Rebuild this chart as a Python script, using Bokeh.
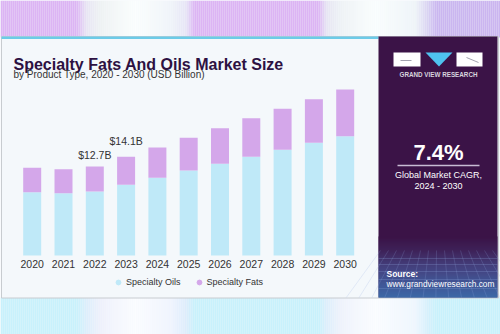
import numpy as np
from bokeh.plotting import figure
from bokeh.models import ColumnDataSource, Range1d, Legend, LegendItem
from bokeh.core.properties import value
from bokeh.embed import file_html
from bokeh.resources import INLINE

# ---------------- data ----------------
years = ["2020", "2021", "2022", "2023", "2024", "2025", "2026", "2027", "2028", "2029", "2030"]
specialty_oils = [9.04, 8.90, 9.14, 10.10, 11.10, 12.14, 13.10, 14.10, 15.10, 16.10, 17.04]
specialty_fats = [3.49, 3.43, 3.56, 4.00, 4.33, 4.67, 5.09, 5.50, 5.86, 6.23, 6.67]
label_years = ["2022", "2023"]
label_texts = ["$12.7B", "$14.1B"]
series_names = ["Specialty Oils", "Specialty Fats"]
cagr_text = "7.4%"

W, H = 500, 334
XR = (-1.0128, 14.962)
YR = (-11.286, 36.43)

def X(px):
    return XR[0] + px / W * (XR[1] - XR[0])

def Y(py):
    return YR[1] - py / H * (YR[1] - YR[0])

p = figure(width=W, height=H, output_backend="svg", toolbar_location=None,
           x_range=Range1d(*XR), y_range=Range1d(*YR), min_border=0,
           outline_line_color=None, background_fill_color="#f4f8fb",
           border_fill_color="#f4f8fb")
p.axis.visible = False
p.grid.visible = False

def hexrgb(h):
    h = h.lstrip("#")
    return np.array([int(h[i:i + 2], 16) for i in (0, 2, 4)], float)

def gradient(stops, xs):
    pos = np.array([s[0] for s in stops], float)
    cols = np.array([hexrgb(s[1]) for s in stops])
    out = []
    for x in xs:
        c = [np.interp(x, pos, cols[:, k]) for k in range(3)]
        out.append("#%02x%02x%02x" % tuple(int(round(v)) for v in c))
    return out

# top band
step = 2
xs = np.arange(0, W, step)
lil = "#dcb4f4"
top_stops = [(0, lil), (76, lil), (86, "#e8e4f4"), (100, "#eef2f3"), (135, "#fbfefe"),
             (170, "#f0f4f9"), (186, "#e6e4f6"), (194, lil), (318, lil), (326, "#e6e4f4"),
             (340, "#eef2f5"), (375, "#fafefe"), (415, "#eef4f8"), (428, "#d8d0f2"),
             (436, "#cab6f0"), (500, "#cbb5f0")]
p.quad(left=[X(x) for x in xs], right=[X(x + step) for x in xs], top=Y(0), bottom=Y(37),
       color=gradient(top_stops, xs + step / 2), line_color=None)
cy = "#c8f1fc"
bot_stops = [(0, cy), (76, cy), (86, "#dceefc"), (100, "#eef0fc"), (135, "#fbfdff"),
             (170, "#f0f4fe"), (186, "#dcecfc"), (194, cy), (318, cy), (326, "#dceefc"),
             (340, "#eef2fc"), (375, "#fbfdff"), (415, "#eef6fe"), (428, "#d4f0fc"),
             (436, cy), (500, cy)]
p.quad(left=[X(x) for x in xs], right=[X(x + step) for x in xs], top=Y(297), bottom=Y(H),
       color=gradient(bot_stops, xs + step / 2), line_color=None)

# card
p.quad(left=X(1), right=X(498), top=Y(36), bottom=Y(297.5), color="#f4f8fb",
       line_color="#c8ccd0", line_width=1)
p.quad(left=X(1), right=X(378), top=Y(36), bottom=Y(38.5), color="#6ccbe8", line_color=None)

# right panel
p.quad(left=X(378), right=X(497), top=Y(36), bottom=Y(297), color="#3b1347", line_color=None)
ys = np.arange(236, 297, 1.0)
pstops = [(236, "#3b1347"), (250, "#40275e"), (265, "#474d8c"), (280, "#4568aa"), (297, "#3d84c6")]
p.quad(left=X(378), right=X(497), top=[Y(y) for y in ys], bottom=[Y(y + 1) for y in ys],
       color=gradient(pstops, ys + 0.5), line_color=None)
# faint perspective grid
gy = [258, 264, 271, 279, 288]
p.multi_line(xs=[[X(378), X(497)] for _ in gy], ys=[[Y(y), Y(y)] for y in gy],
             line_color="#8fa8e0", line_alpha=0.25, line_width=1)
gx = np.arange(380, 500, 8)
p.multi_line(xs=[[X(x), X(437 + (x - 437) * 1.6)] for x in gx],
             ys=[[Y(250), Y(297)] for _ in gx], line_color="#8fa8e0", line_alpha=0.2, line_width=1)

# logo
p.quad(left=[X(393), X(456)], right=[X(420), X(482)], top=Y(52), bottom=Y(66),
       color="#ffffff", line_color=None)
p.patch(x=[X(425), X(452), X(438.5)], y=[Y(52), Y(52), Y(66)], color="#4fc3ef", line_color=None)
p.multi_line(xs=[[X(400), X(411)], [X(466), X(478)]], ys=[[Y(60), Y(60)], [Y(57), Y(62)]],
             line_color="#8a8a9a", line_width=0.8)
p.text(x=[X(438)], y=[Y(74)], text=["GRAND VIEW RESEARCH"], text_align="center",
       text_baseline="middle", text_font=value("Liberation Sans"), text_font_style="bold",
       text_font_size="6.3px", text_color="#d8d4de")

p.text(x=[X(438)], y=[Y(152)], text=[cagr_text], text_align="center", text_baseline="middle",
       text_font=value("Liberation Sans"), text_font_style="bold", text_font_size="22px",
       text_color="#ffffff")
p.line(x=[X(397), X(479)], y=[Y(165), Y(165)], line_color="#c8bcd4", line_width=1.5)
p.text(x=[X(438), X(438)], y=[Y(174.5), Y(185.5)], text=["Global Market CAGR,", "2024 - 2030"],
       text_align="center", text_baseline="middle", text_font=value("Liberation Sans"),
       text_font_size="9px", text_color="#ffffff")
p.text(x=[X(386)], y=[Y(273)], text=["Source:"], text_baseline="middle",
       text_font=value("Liberation Sans"), text_font_style="bold", text_font_size="8.5px",
       text_color="#ffffff")
p.text(x=[X(386)], y=[Y(283)], text=["www.grandviewresearch.com"], text_baseline="middle",
       text_font=value("Liberation Sans"), text_font_size="8.3px", text_color="#ffffff")

# titles
p.text(x=[X(13)], y=[Y(63.5)], text=["Specialty Fats And Oils Market Size"],
       text_baseline="alphabetic", text_font=value("Liberation Sans"), text_font_style="bold",
       text_font_size="16px", text_color="#2d1142")
p.text(x=[X(13)], y=[Y(74)], text=["by Product Type, 2020 - 2030 (USD Billion)"],
       text_baseline="middle", text_font=value("Liberation Sans"), text_font_size="10px",
       text_color="#333333")

# bars
idx = list(range(len(years)))
src = ColumnDataSource(dict(x=idx, years=years, oils=specialty_oils, fats=specialty_fats,
                            total=[a + b for a, b in zip(specialty_oils, specialty_fats)]))
bars = p.vbar_stack(["oils", "fats"], x="x", width=0.575, source=src,
                    color=["#bfe9f8", "#d4a7ea"], line_color=None)

# year labels
p.text(x="x", y=Y(263), text="years", source=src, text_align="center", text_baseline="middle",
       text_font=value("Liberation Sans"), text_font_size="10.5px", text_color="#333333")

# value labels
lab_x = [years.index(y) for y in label_years]
lab_y = [src.data["total"][i] for i in lab_x]
lab_src = ColumnDataSource(dict(x=lab_x, y=lab_y, text=label_texts, off=[-6, -10]))
p.text(x="x", y="y", text="text", source=lab_src, text_align="center", text_baseline="bottom",
       y_offset="off", text_font=value("Liberation Sans"), text_font_size="10.5px",
       text_color="#333333")

# legend (circle markers; the swatch renderers sit outside the visible range)
r_oil = p.scatter(x=[XR[0] - 50], y=[YR[0] - 50], marker="circle", size=9, color="#bfe9f8")
r_fat = p.scatter(x=[XR[0] - 50], y=[YR[0] - 50], marker="circle", size=9, color="#d4a7ea")
legend = Legend(items=[LegendItem(label=series_names[0], renderers=[r_oil], index=0),
                       LegendItem(label=series_names[1], renderers=[r_fat], index=0)],
                orientation="horizontal", location=(112, 46), padding=0, margin=0,
                spacing=12, glyph_width=12, glyph_height=12, label_standoff=2, label_height=12,
                label_text_font="Liberation Sans", label_text_font_size="9px",
                label_text_color="#333333", background_fill_alpha=0, border_line_color=None)
p.add_layout(legend, "center")

open("out.html", "w").write(file_html(p, INLINE))
